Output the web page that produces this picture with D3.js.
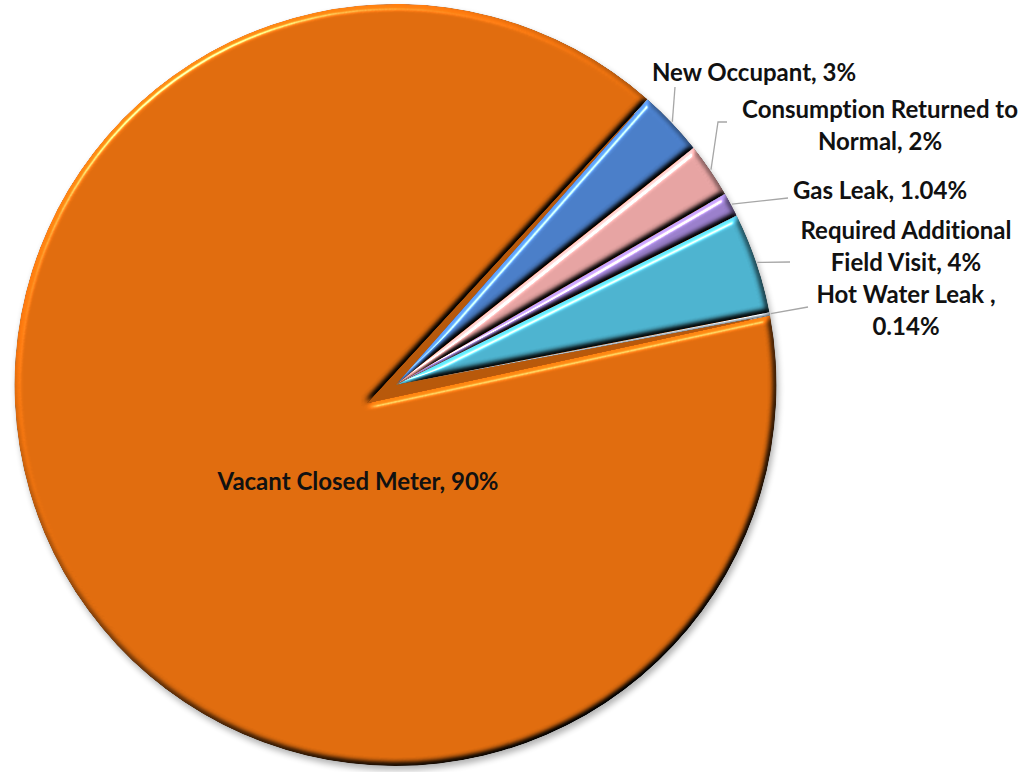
<!DOCTYPE html>
<html>
<head>
<meta charset="utf-8">
<script src="https://cdn.jsdelivr.net/npm/d3@7"></script>
<style>
  body { margin: 0; background: #fff; }
  svg text { font-family: Lato, "Noto Sans", sans-serif; font-weight: bold; fill: #111;
             font-variant-ligatures: none; }
</style>
</head>
<body>
<svg id="chart" width="1028" height="772"></svg>
<script>
// data
var categories = ["Vacant Closed Meter", "New Occupant", "Consumption Returned to Normal",
                  "Gas Leak", "Required Additional Field Visit", "Hot Water Leak"];
var values = [89.4, 2.8, 2.33, 1.03, 4.28, 0.14];
var labelLines = [
  ["Vacant Closed Meter, 90%"],
  ["New Occupant, 3%"],
  ["Consumption Returned to", "Normal, 2%"],
  ["Gas Leak, 1.04%"],
  ["Required Additional", "Field Visit, 4%"],
  ["Hot Water Leak ,", "0.14%"]
];
var colors = ["#E06C0E", "#4A7EC8", "#E6A3A2", "#9A7FCB", "#4DB3CF", "#B4BEC6"];

// layout
var cx = 395.5, cy = 385, r = 381;
var apexShift = [-28, 18];   // the big slice is pulled out a little at its tip
// label anchor (centre x, first baseline) and leader elbow points
var labelPos = [[358, 490], [754, 81], [880, 118], [880, 199], [906, 239], [906, 303]];
var leaderPts = [null, [[675, 87]], [[718, 122], [727, 122]], [[788, 198]], [[790, 262]], [[808, 307]]];

var svg = d3.select("#chart");
var defs = svg.append("defs");

// bevel look: diffuse shading multiplied in, specular highlight added
var f = defs.append("filter").attr("id", "bevel")
  .attr("color-interpolation-filters", "sRGB")
  .attr("x", "-5%").attr("y", "-5%").attr("width", "110%").attr("height", "110%");
f.append("feGaussianBlur").attr("in", "SourceAlpha").attr("stdDeviation", 3).attr("result", "blur");
var dl = f.append("feDiffuseLighting").attr("in", "blur").attr("surfaceScale", 5)
  .attr("diffuseConstant", 1).attr("lighting-color", "#fff").attr("result", "diff");
dl.append("feDistantLight").attr("azimuth", 235).attr("elevation", 50);
f.append("feComposite").attr("in", "SourceGraphic").attr("in2", "diff")
  .attr("operator", "arithmetic").attr("k1", 1 / Math.sin(50 * Math.PI / 180))
  .attr("k2", 0).attr("k3", 0).attr("k4", 0)
  .attr("result", "shaded");
var sl = f.append("feSpecularLighting").attr("in", "blur").attr("surfaceScale", 5)
  .attr("specularConstant", 1).attr("specularExponent", 60).attr("lighting-color", "#fff")
  .attr("result", "spec");
sl.append("feDistantLight").attr("azimuth", 235).attr("elevation", 40);
f.append("feComposite").attr("in", "spec").attr("in2", "SourceAlpha").attr("operator", "in").attr("result", "specIn");
f.append("feComposite").attr("in", "shaded").attr("in2", "specIn")
  .attr("operator", "arithmetic").attr("k1", 0).attr("k2", 1).attr("k3", 0.7).attr("k4", 0)
  .attr("result", "lit");
f.append("feComposite").attr("in", "lit").attr("in2", "SourceAlpha").attr("operator", "in");

var shadow = defs.append("filter").attr("id", "shadow")
  .attr("x", "-10%").attr("y", "-10%").attr("width", "120%").attr("height", "120%");
shadow.append("feGaussianBlur").attr("stdDeviation", 3);

var pie = d3.pie().sort(null)
  .startAngle(79.5 * Math.PI / 180)
  .endAngle(79.5 * Math.PI / 180 + 2 * Math.PI);
var arcs = pie(values);

function slicePath(d, i) {
  var p = d3.path();
  var ax = i === 0 ? cx + apexShift[0] : cx;
  var ay = i === 0 ? cy + apexShift[1] : cy;
  p.moveTo(ax, ay);
  p.lineTo(cx + r * Math.sin(d.startAngle), cy - r * Math.cos(d.startAngle));
  p.arc(cx, cy, r, d.startAngle - Math.PI / 2, d.endAngle - Math.PI / 2);
  p.closePath();
  return p.toString();
}

// soft shadow under the pie, and a shaded filler so the pulled-out tip leaves no hole
svg.append("circle").attr("cx", cx + 2).attr("cy", cy + 4).attr("r", r)
  .attr("fill", "#000").attr("opacity", 0.3).attr("filter", "url(#shadow)");
svg.append("circle").attr("cx", cx).attr("cy", cy).attr("r", r - 20)
  .attr("fill", "#B8590B");

svg.append("g").selectAll("path")
  .data(arcs)
  .join("path")
  .attr("d", slicePath)
  .attr("fill", function (d, i) { return colors[i]; })
  .attr("filter", "url(#bevel)");

// leader lines
var leaders = svg.append("g");
arcs.forEach(function (d, i) {
  if (!leaderPts[i]) return;
  var mid = (d.startAngle + d.endAngle) / 2;
  var pts = [[cx + (r + 1) * Math.sin(mid), cy - (r + 1) * Math.cos(mid)]].concat(leaderPts[i]);
  leaders.append("path")
    .attr("d", d3.line()(pts))
    .attr("fill", "none")
    .attr("stroke", "#a6a6a6")
    .attr("stroke-width", 1.3);
});

// labels
var labels = svg.append("g");
labelLines.forEach(function (lines, i) {
  var t = labels.append("text")
    .attr("text-anchor", "middle")
    .attr("font-size", 24)
    .attr("x", labelPos[i][0])
    .attr("y", labelPos[i][1]);
  lines.forEach(function (s, j) {
    t.append("tspan").attr("x", labelPos[i][0]).attr("dy", j === 0 ? 0 : 31.5).text(s);
  });
});
</script>
</body>
</html>
